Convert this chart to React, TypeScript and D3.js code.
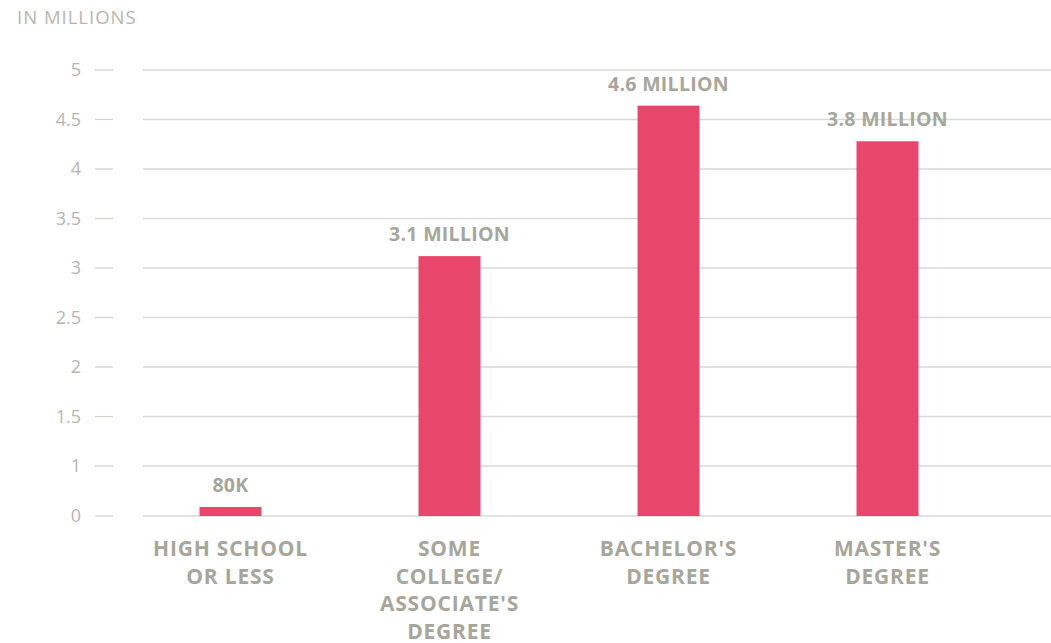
import React from "react";
import * as d3 from "d3";

const categories: string[][] = [
  ["HIGH SCHOOL", "OR LESS"],
  ["SOME", "COLLEGE/", "ASSOCIATE'S", "DEGREE"],
  ["BACHELOR'S", "DEGREE"],
  ["MASTER'S", "DEGREE"],
];
const categoryKeys = ["hs", "college", "bachelor", "master"];
const values = [0.18, 3.12, 4.64, 4.28];
const valueLabels = ["80K", "3.1 MILLION", "4.6 MILLION", "3.8 MILLION"];
const tickValues = [0, 1, 1.5, 2, 2.5, 3, 3.5, 4, 4.5, 5];
const tickLabels = ["0", "1", "1.5", "2", "2.5", "3", "3.5", "4", "4.5", "5"];

const W = 1051;
const H = 643;
const FONT = "'Open Sans', sans-serif";
const BAR = "#e9466b";
const TEXT = "#a6a69b";
const TICK = "#b6b6b1";
const GRID = "#d9d9d9";

export default function App() {
  // axis in the original is piecewise: 0 -> 1 spans half the step of the others
  const y = d3.scaleLinear().domain([0, 1, 5]).range([516, 466, 70]);
  const x = d3
    .scaleBand<string>()
    .domain(categoryKeys)
    .range([121, 997])
    .paddingInner(0.717)
    .paddingOuter(0.3585);

  return (
    <div style={{ position: "absolute", left: 0, top: 0 }}>
      <svg width={W} height={H} style={{ display: "block", background: "#fff" }}>
        <text x={17} y={24} fontFamily={FONT} fontSize={18.5} letterSpacing={1} fill={TICK}>
          IN MILLIONS
        </text>
        {tickValues.map((t, i) => (
          <g key={t}>
            <text
              x={81}
              y={y(t)}
              dy="0.36em"
              textAnchor="end"
              fontFamily={FONT}
              fontSize={18}
              fill={TICK}
            >
              {tickLabels[i]}
            </text>
            <line x1={95} x2={113} y1={y(t)} y2={y(t)} stroke="#cfcfcb" strokeWidth={1.2} />
            <line x1={143} x2={W} y1={y(t)} y2={y(t)} stroke={GRID} strokeWidth={1.6} />
          </g>
        ))}
        {categoryKeys.map((k, i) => {
          const bx = x(k)!;
          const bw = x.bandwidth();
          const top = y(values[i]);
          const cx = bx + bw / 2;
          return (
            <g key={k}>
              <rect x={bx} y={top} width={bw} height={y(0) - top} fill={BAR} />
              <text
                x={cx}
                y={top - 15}
                textAnchor="middle"
                fontFamily={FONT}
                fontWeight={700}
                fontSize={19.5}
                letterSpacing={0.3}
                fill={TEXT}
              >
                {valueLabels[i]}
              </text>
              {categories[i].map((line, j) => (
                <text
                  key={j}
                  x={cx}
                  y={556 + j * 27.5}
                  textAnchor="middle"
                  fontFamily={FONT}
                  fontWeight={700}
                  fontSize={21}
                  letterSpacing={0.8}
                  fill={TEXT}
                >
                  {line}
                </text>
              ))}
            </g>
          );
        })}
      </svg>
    </div>
  );
}
